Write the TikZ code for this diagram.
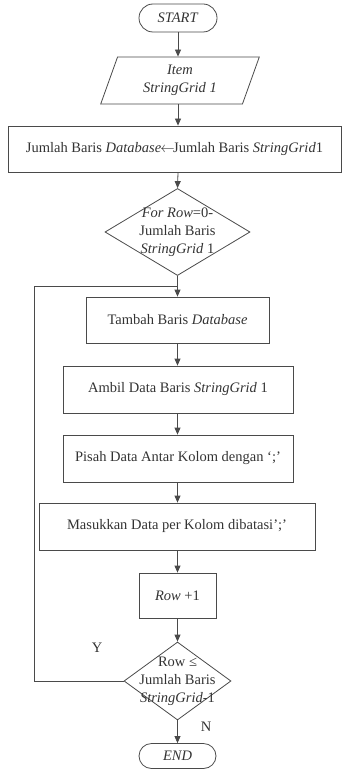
\documentclass[tikz,border=0pt]{standalone}
\usepackage{fontspec}
\setmainfont{Liberation Serif}
\usetikzlibrary{shapes.geometric,shapes.misc,arrows.meta,calc}
\definecolor{ln}{HTML}{4A4A4A}
\definecolor{tx}{HTML}{333333}
\begin{document}
\begin{tikzpicture}[x=1pt,y=-1pt,
  every node/.style={font=\fontsize{14.5}{18}\selectfont, text=tx, align=center, inner sep=0pt},
  box/.style={draw=ln, line width=0.8pt, rectangle},
  term/.style={draw=ln, line width=0.8pt, rounded rectangle},
  io/.style={draw=ln, line width=0.8pt, trapezium, trapezium left angle=72, trapezium right angle=108, trapezium stretches=true},
  dec/.style={draw=ln, line width=0.8pt, diamond},
  arr/.style={draw=ln, line width=0.8pt, -{Triangle[length=7pt,width=6pt]}},
  ln/.style={draw=ln, line width=0.8pt}]
\useasboundingbox (0,0) rectangle (343,770);
\node[term, minimum width=78pt, minimum height=28pt] (start) at (178,18) {\textit{START}};
\node[io, minimum width=160pt, minimum height=47pt] (item) at (180,80.5) {\textit{Item}\\\textit{StringGrid 1}};
\node[box, minimum width=333pt, minimum height=46pt] (jml) at (174.5,149) {Jumlah Baris \textit{Database}\kern-1pt$\leftarrow$\kern-1.5ptJumlah Baris \textit{StringGrid}1};
\node[dec, minimum width=145pt, minimum height=87pt] (d1) at (177.5,232) {};
\node (d1t) at (d1.center) {\textit{For Row}=0-\\Jumlah Baris\\\textit{StringGrid} 1};
\node[box, minimum width=183pt, minimum height=46pt] (tambah) at (177.5,320) {Tambah Baris \textit{Database}};
\node[box, minimum width=230pt, minimum height=47pt] (ambil) at (178,389.5) {Ambil Data Baris \textit{StringGrid} 1};
\node[box, minimum width=230pt, minimum height=47pt] (pisah) at (178,458.5) {Pisah Data Antar Kolom dengan ‘;’};
\node[box, minimum width=276pt, minimum height=47pt] (masuk) at (177,526.5) {Masukkan Data per Kolom dibatasi’;’};
\node[box, minimum width=77pt, minimum height=45pt] (row) at (177.5,595.5) {\textit{Row} +1};
\node[dec, minimum width=107pt, minimum height=78pt] (d2) at (177.5,681) {};
\node (d2t) at (d2.center) {Row ≤\\Jumlah Baris\\\textit{StringGrid}-1};
\node[term, minimum width=77pt, minimum height=25pt] (end) at (177.5,756) {\textit{END}};
\node (y) at (97,648) {Y};
\node (n) at (206,727) {N};
\coordinate (lc) at (34,286);
\coordinate (join) at (177.5,286);
\draw[arr] (start.south) -- (start.south |- item.north);
\draw[arr] (start.south |- item.south) -- (start.south |- jml.north);
\draw[arr] (start.south |- jml.south) -- (d1.north);
\draw[arr] (d1.south) -- (tambah.north);
\draw[arr] (tambah.south) -- (tambah.south |- ambil.north);
\draw[arr] (tambah.south |- ambil.south) -- (tambah.south |- pisah.north);
\draw[arr] (tambah.south |- pisah.south) -- (tambah.south |- masuk.north);
\draw[arr] (tambah.south |- masuk.south) -- (row.north);
\draw[arr] (row.south) -- (d2.north);
\draw[arr] (d2.south) -- (end.north);
\draw[ln] (d2.west) -| (lc) -- (join);
\end{tikzpicture}
\end{document}
